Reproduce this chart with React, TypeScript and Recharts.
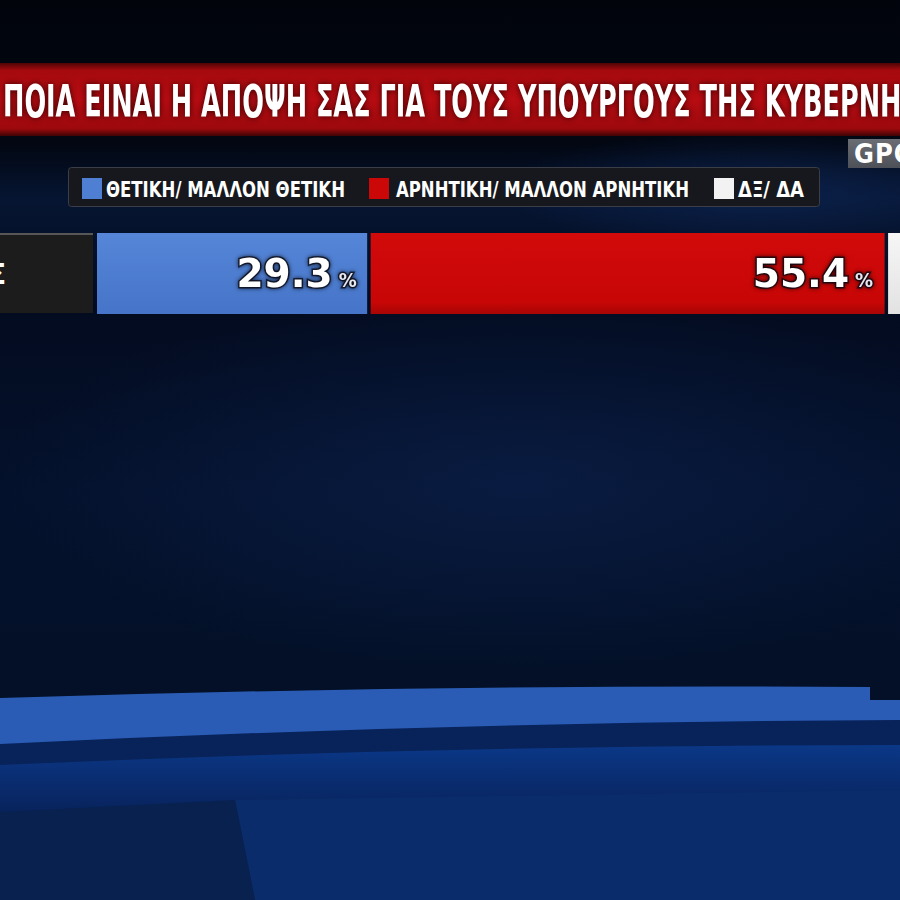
import React from 'react';
import { BarChart, Bar, XAxis, YAxis, Legend, LabelList } from 'recharts';

const categories = ['ΣΥΝΟΛΟ ΚΥΒΕΡΝΗΣΗΣ'];
const positiveValues = [29.3];
const negativeValues = [55.4];
const dkValues = [15.3];
const seriesKeys = ['pos', 'neg', 'dk'];
const seriesNames = ['ΘΕΤΙΚΗ/ ΜΑΛΛΟΝ ΘΕΤΙΚΗ', 'ΑΡΝΗΤΙΚΗ/ ΜΑΛΛΟΝ ΑΡΝΗΤΙΚΗ', 'ΔΞ/ ΔΑ'];
const seriesColors = ['#4f7fd2', '#cc0707', '#f2f2f2'];
const seriesGradients = ['url(#gPos)', 'url(#gNeg)', 'url(#gDk)'];
const titleText = 'ΠΟΙΑ ΕΙΝΑΙ Η ΑΠΟΨΗ ΣΑΣ ΓΙΑ ΤΟΥΣ ΥΠΟΥΡΓΟΥΣ ΤΗΣ ΚΥΒΕΡΝΗΣΗΣ;';
const sourceText = 'GPO';

const data = categories.map((name, i) => ({
  name,
  pos: positiveValues[i],
  neg: negativeValues[i],
  dk: dkValues[i],
}));

const NARROW = "'Liberation Sans Narrow', 'DejaVu Sans Condensed', 'Roboto Condensed', sans-serif";
const WIDE = "'DejaVu Sans', 'Liberation Sans', sans-serif";

const GapBar = (props: any) => {
  const { x, y, width, height, fill } = props;
  const w = Math.max(0, width - 3.5);
  return <rect x={x} y={y} width={w} height={height} fill={fill} />;
};

const makeValueLabel = (pad: number) => (props: any) => {
  const { x, y, width, height, value } = props;
  const cy = y + height / 2;
  return (
    <text
      x={x + width - pad}
      y={cy + 13}
      textAnchor="end"
      fill="#ffffff"
      stroke="rgba(10,10,20,0.75)"
      strokeWidth={3}
      style={{ paintOrder: 'stroke', filter: 'drop-shadow(0 0 2px rgba(0,0,0,0.8))' }}
      fontFamily={WIDE}
      fontWeight="bold"
    >
      <tspan fontSize={39}>{Number(value).toFixed(1)}</tspan>
      <tspan fontSize={20} dx={6} fontFamily={NARROW} fill="#e8e8f0">%</tspan>
    </text>
  );
};

const CategoryTick = (props: any) => {
  const { y, payload } = props;
  return (
    <g>
      <rect x={-20} y={y - 40.5} width={113} height={80} fill="#1d1c1c" />
      <rect x={-20} y={y - 40.5} width={113} height={2} fill="#575757" />
      <text
        x={6}
        y={y + 10}
        textAnchor="end"
        fill="#ffffff"
        fontSize={28}
        fontWeight="bold"
        fontFamily={NARROW}
      >
        {payload.value}
      </text>
    </g>
  );
};

const legendSquareX = [14, 301, 646];
const legendTextX = [38, 328, 670];
const legendTextLen = [239, 293, 66];

const LegendContent = () => (
  <svg width={752} height={40} style={{ display: 'block' }}>
    <rect x={0.5} y={0.5} width={751} height={39} rx={3} fill="#16181d" stroke="#3b3e46" />
    {seriesNames.map((name, i) => (
      <g key={name}>
        <rect x={legendSquareX[i]} y={11} width={20} height={21} fill={seriesColors[i]} />
        <text
          x={legendTextX[i]}
          y={30}
          fontSize={22}
          fontWeight="bold"
          fill="#ffffff"
          fontFamily={NARROW}
          textLength={legendTextLen[i]}
          lengthAdjust="spacingAndGlyphs"
        >
          {name}
        </text>
      </g>
    ))}
  </svg>
);

const Background = () => (
  <svg width={900} height={900} style={{ position: 'absolute', left: 0, top: 0 }}>
    <defs>
      <linearGradient id="bgV" x1="0" y1="0" x2="0" y2="1">
        <stop offset="0" stopColor="#01040b" />
        <stop offset="0.16" stopColor="#020712" />
        <stop offset="0.22" stopColor="#061532" />
        <stop offset="0.34" stopColor="#030b1f" />
        <stop offset="0.55" stopColor="#04112c" />
        <stop offset="0.77" stopColor="#031027" />
      </linearGradient>
      <radialGradient id="glow" cx="0.5" cy="0.5" r="0.5">
        <stop offset="0" stopColor="#0d2452" stopOpacity="0.55" />
        <stop offset="1" stopColor="#0d2452" stopOpacity="0" />
      </radialGradient>
      <radialGradient id="glowTR" cx="0.5" cy="0.5" r="0.5">
        <stop offset="0" stopColor="#0f2a5e" stopOpacity="0.6" />
        <stop offset="1" stopColor="#0f2a5e" stopOpacity="0" />
      </radialGradient>
      <linearGradient id="lowBand" x1="0" y1="0" x2="0" y2="1">
        <stop offset="0" stopColor="#0b3a8c" stopOpacity="0.9" />
        <stop offset="1" stopColor="#0b3a8c" stopOpacity="0" />
      </linearGradient>
    </defs>
    <rect x={0} y={0} width={900} height={900} fill="url(#bgV)" />
    <ellipse cx={520} cy={480} rx={520} ry={190} fill="url(#glow)" />
    <ellipse cx={760} cy={190} rx={260} ry={60} fill="url(#glowTR)" />
    <path d="M0,740 Q450,718 900,718 L900,900 L0,900 Z" fill="#08225a" />
    <path d="M0,765 Q450,745 900,745 L900,800 Q450,800 0,815 Z" fill="url(#lowBand)" />
    <path d="M235,800 L900,790 L900,900 L255,900 Z" fill="#0a2c6a" />
    <path d="M0,812 L235,800 L255,900 L0,900 Z" fill="#08214f" />
    <path d="M0,698 Q450,684 870,687 L870,700 L900,700 L900,720 Q450,722 0,744 Z" fill="#2a5cb5" />
  </svg>
);

const Title = () => (
  <svg width={900} height={150} style={{ position: 'absolute', left: 0, top: 0 }}>
    <defs>
      <linearGradient id="redBand" x1="0" y1="0" x2="0" y2="1">
        <stop offset="0" stopColor="#4e0405" />
        <stop offset="0.1" stopColor="#a50a0e" />
        <stop offset="0.5" stopColor="#b70c12" />
        <stop offset="0.9" stopColor="#9c090d" />
        <stop offset="1" stopColor="#3e0304" />
      </linearGradient>
    </defs>
    <rect x={0} y={63} width={900} height={73} fill="url(#redBand)" />
    <text
      x={3}
      y={117}
      fontSize={44}
      fontWeight="bold"
      fill="#ffffff"
      fontFamily={NARROW}
      textLength={965}
      lengthAdjust="spacingAndGlyphs"
      style={{ filter: 'drop-shadow(0 0 3px rgba(40,0,0,0.9))' }}
    >
      {titleText}
    </text>
  </svg>
);

export default function App() {
  return (
    <div
      style={{
        position: 'absolute',
        left: 0,
        top: 0,
        width: 900,
        height: 900,
        overflow: 'hidden',
        background: '#020814',
      }}
    >
      <Background />
      <Title />
      <div
        style={{
          position: 'absolute',
          left: 848,
          top: 139,
          width: 70,
          height: 29,
          background: 'linear-gradient(#6a6d73, #4d5056)',
          color: '#ffffff',
          fontFamily: NARROW,
          fontWeight: 'bold',
          fontSize: 27,
          lineHeight: '29px',
          paddingLeft: 6,
          boxSizing: 'border-box',
          letterSpacing: 1,
        }}
      >
        {sourceText}
      </div>
      <div style={{ position: 'absolute', left: 0, top: 0 }}>
        <BarChart
          width={1031}
          height={340}
          data={data}
          layout="vertical"
          margin={{ top: 233, right: 0, bottom: 26, left: 0 }}
          barCategoryGap={0}
        >
          <defs>
            <linearGradient id="gPos" x1="0" y1="0" x2="0" y2="1">
              <stop offset="0" stopColor="#5686d8" />
              <stop offset="1" stopColor="#4574c8" />
            </linearGradient>
            <linearGradient id="gNeg" x1="0" y1="0" x2="0" y2="1">
              <stop offset="0" stopColor="#d20a0a" />
              <stop offset="0.85" stopColor="#c80606" />
              <stop offset="1" stopColor="#a80505" />
            </linearGradient>
            <linearGradient id="gDk" x1="0" y1="0" x2="0" y2="1">
              <stop offset="0" stopColor="#f6f6f6" />
              <stop offset="1" stopColor="#e2e2e2" />
            </linearGradient>
          </defs>
          <XAxis type="number" domain={[0, 100]} hide />
          <YAxis
            type="category"
            dataKey="name"
            width={97}
            axisLine={false}
            tickLine={false}
            tick={<CategoryTick />}
          />
          <Legend
            layout="vertical"
            align="center"
            verticalAlign="middle"
            content={<LegendContent />}
            wrapperStyle={{ top: 167, left: 68, width: 752, height: 40 }}
          />
          {seriesKeys.map((k, i) => (
            <Bar
              key={k}
              dataKey={k}
              name={seriesNames[i]}
              stackId="s"
              fill={seriesGradients[i]}
              shape={<GapBar />}
              isAnimationActive={false}
            >
              {i === 0 && <LabelList dataKey={k} content={makeValueLabel(14)} />}
              {i === 1 && <LabelList dataKey={k} content={makeValueLabel(15)} />}
            </Bar>
          ))}
        </BarChart>
      </div>
    </div>
  );
}
